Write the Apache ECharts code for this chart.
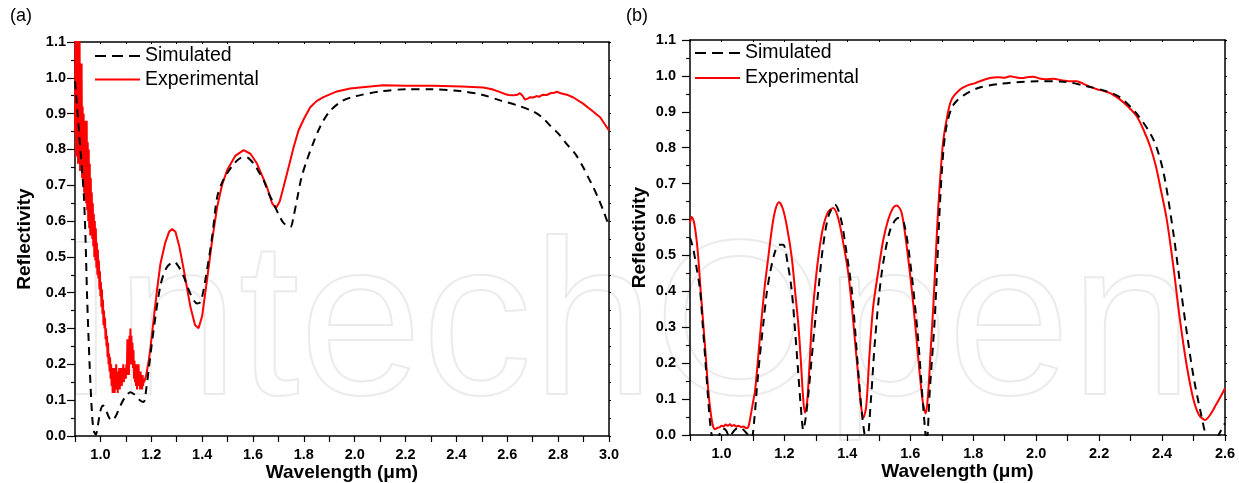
<!DOCTYPE html>
<html>
<head>
<meta charset="utf-8">
<script src="https://cdn.jsdelivr.net/npm/echarts@6/dist/echarts.min.js"></script>
<style>
html,body{margin:0;padding:0;background:#fff;}
#c{width:1239px;height:483px;}
</style>
</head>
<body>
<div id="c"></div>
<script>
// ---------------- DATA ----------------
const seriesNames = ['Simulated', 'Experimental'];
const yTickLabels = ['0.0','0.1','0.2','0.3','0.4','0.5','0.6','0.7','0.8','0.9','1.0','1.1'];
const xTickLabelsA = ['1.0','1.2','1.4','1.6','1.8','2.0','2.2','2.4','2.6','2.8','3.0'];
const xTickLabelsB = ['1.0','1.2','1.4','1.6','1.8','2.0','2.2','2.4','2.6'];

// Panel (a): simulated [wavelength um, reflectivity]
const simA = [
[0.900,0.99],[0.909,0.91],[0.920,0.81],[0.930,0.72],[0.935,0.67],[0.941,0.56],[0.948,0.38],
[0.958,0.19],[0.968,0.05],[0.975,0.012],[0.982,0.004],[0.990,0.03],[1.000,0.07],[1.010,0.085],
[1.020,0.075],[1.035,0.05],[1.047,0.043],[1.060,0.055],[1.080,0.087],[1.100,0.112],[1.118,0.122],
[1.135,0.115],[1.155,0.10],[1.170,0.095],[1.180,0.13],[1.190,0.188],[1.210,0.30],[1.236,0.42],
[1.260,0.47],[1.290,0.486],[1.310,0.47],[1.328,0.444],[1.355,0.395],[1.380,0.37],[1.395,0.375],
[1.419,0.463],[1.440,0.56],[1.459,0.667],[1.480,0.71],[1.498,0.733],[1.525,0.76],[1.550,0.776],
[1.575,0.778],[1.603,0.76],[1.625,0.735],[1.642,0.714],[1.660,0.68],[1.681,0.649],[1.700,0.62],
[1.720,0.595],[1.747,0.583],[1.760,0.615],[1.773,0.66],[1.790,0.72],[1.812,0.77],[1.838,0.82],
[1.865,0.865],[1.900,0.905],[1.950,0.935],[2.000,0.948],[2.100,0.962],[2.205,0.968],[2.300,0.968],
[2.415,0.963],[2.500,0.953],[2.572,0.937],[2.640,0.923],[2.702,0.906],[2.740,0.888],[2.768,0.867],
[2.800,0.845],[2.834,0.815],[2.870,0.785],[2.898,0.751],[2.920,0.72],[2.938,0.695],[2.960,0.66],
[2.980,0.625],[3.000,0.585]
];

// Panel (a): experimental [wavelength um, reflectivity]
const expA = [
[0.900,0.85],[0.902,1.15],[0.904,0.78],[0.906,1.12],[0.908,0.80],[0.910,1.15],[0.912,0.76],
[0.914,0.95],[0.916,0.82],[0.918,1.12],[0.920,0.74],[0.922,0.88],[0.924,0.76],[0.926,1.04],
[0.928,0.72],[0.930,0.92],[0.932,0.70],[0.934,0.90],[0.936,0.68],[0.938,0.88],[0.940,0.66],
[0.942,0.84],[0.944,0.65],[0.946,0.88],[0.948,0.63],[0.950,0.82],[0.952,0.60],[0.954,0.80],
[0.956,0.58],[0.958,0.76],[0.960,0.56],[0.962,0.72],[0.964,0.57],[0.966,0.68],[0.968,0.55],
[0.970,0.65],[0.972,0.53],[0.974,0.62],[0.976,0.50],[0.978,0.60],[0.980,0.49],[0.982,0.58],
[0.984,0.47],[0.986,0.54],[0.988,0.45],[0.990,0.52],[0.992,0.44],[0.994,0.49],[0.996,0.41],
[0.998,0.46],[1.000,0.39],[1.002,0.43],[1.004,0.36],[1.006,0.41],[1.008,0.34],[1.010,0.38],
[1.012,0.31],[1.014,0.35],[1.016,0.30],[1.018,0.33],[1.020,0.27],[1.022,0.30],[1.024,0.25],
[1.026,0.28],[1.028,0.22],[1.030,0.26],[1.032,0.20],[1.034,0.23],[1.036,0.18],[1.038,0.22],
[1.040,0.16],[1.042,0.20],[1.044,0.14],[1.046,0.19],[1.048,0.12],[1.050,0.18],[1.052,0.13],
[1.054,0.19],[1.056,0.12],[1.058,0.17],[1.060,0.14],[1.062,0.20],[1.064,0.13],[1.066,0.18],
[1.068,0.12],[1.070,0.17],[1.072,0.14],[1.074,0.19],[1.076,0.13],[1.078,0.18],[1.080,0.15],
[1.082,0.19],[1.084,0.14],[1.086,0.18],[1.088,0.15],[1.090,0.20],[1.092,0.15],[1.094,0.18],
[1.096,0.16],[1.098,0.19],[1.100,0.16],[1.102,0.20],[1.104,0.17],[1.106,0.27],[1.108,0.18],
[1.110,0.26],[1.112,0.17],[1.114,0.28],[1.116,0.20],[1.118,0.30],[1.120,0.22],[1.122,0.28],
[1.124,0.20],[1.126,0.26],[1.128,0.19],[1.130,0.24],[1.132,0.16],[1.134,0.21],[1.136,0.15],
[1.138,0.19],[1.140,0.14],[1.142,0.20],[1.144,0.13],[1.146,0.18],[1.148,0.15],[1.150,0.20],
[1.152,0.14],[1.154,0.17],[1.156,0.13],[1.158,0.18],[1.160,0.14],[1.162,0.16],[1.164,0.13],
[1.166,0.17],[1.168,0.14],[1.170,0.16],[1.172,0.15],[1.176,0.16],[1.180,0.17],[1.185,0.19],
[1.190,0.21],[1.197,0.248],[1.210,0.33],[1.223,0.41],[1.236,0.481],[1.255,0.54],[1.270,0.57],
[1.282,0.578],[1.295,0.57],[1.310,0.53],[1.328,0.463],[1.354,0.36],[1.372,0.31],[1.386,0.301],
[1.400,0.335],[1.419,0.435],[1.440,0.55],[1.459,0.639],[1.478,0.70],[1.498,0.742],[1.530,0.782],
[1.563,0.798],[1.590,0.788],[1.616,0.76],[1.640,0.72],[1.655,0.695],[1.675,0.65],[1.690,0.636],
[1.705,0.655],[1.720,0.695],[1.740,0.75],[1.760,0.807],[1.779,0.853],[1.800,0.885],[1.825,0.918],
[1.850,0.935],[1.877,0.946],[1.930,0.962],[1.982,0.970],[2.050,0.975],[2.113,0.979],[2.200,0.978],
[2.310,0.978],[2.420,0.976],[2.505,0.973],[2.540,0.968],[2.572,0.96],[2.590,0.955],[2.605,0.952],
[2.623,0.951],[2.640,0.953],[2.650,0.957],[2.660,0.950],[2.670,0.939],[2.680,0.942],[2.690,0.946],
[2.702,0.945],[2.715,0.949],[2.725,0.947],[2.740,0.953],[2.755,0.952],[2.770,0.957],[2.785,0.958],
[2.795,0.961],[2.810,0.957],[2.834,0.953],[2.860,0.945],[2.898,0.928],[2.930,0.91],[2.965,0.89],
[3.000,0.853]
];

// Panel (b): simulated
const simB = [
[0.900,0.55],[0.910,0.52],[0.920,0.47],[0.932,0.404],[0.940,0.31],[0.948,0.218],[0.956,0.12],
[0.964,0.033],[0.972,-0.01],[0.985,-0.02],[0.995,0.005],[1.005,0.018],[1.015,0.012],[1.025,-0.005],
[1.040,0.012],[1.052,0.02],[1.065,0.018],[1.080,0.005],[1.095,-0.01],[1.104,0.04],[1.112,0.125],
[1.122,0.22],[1.133,0.31],[1.143,0.39],[1.154,0.45],[1.170,0.51],[1.183,0.53],[1.196,0.53],
[1.210,0.48],[1.223,0.404],[1.234,0.29],[1.244,0.172],[1.252,0.08],[1.260,0.014],[1.268,0.05],
[1.278,0.13],[1.287,0.218],[1.297,0.31],[1.308,0.404],[1.322,0.52],[1.340,0.61],[1.361,0.641],
[1.380,0.60],[1.397,0.51],[1.414,0.404],[1.425,0.29],[1.435,0.172],[1.445,0.07],[1.455,0.0],
[1.462,-0.02],[1.475,0.10],[1.488,0.265],[1.509,0.45],[1.536,0.571],[1.562,0.604],[1.580,0.59],
[1.604,0.45],[1.625,0.265],[1.641,0.079],[1.652,-0.02],[1.662,0.125],[1.678,0.33],[1.694,0.64],
[1.705,0.79],[1.715,0.86],[1.731,0.91],[1.747,0.93],[1.768,0.945],[1.811,0.965],[1.885,0.978],
[2.002,0.985],[2.087,0.984],[2.161,0.971],[2.224,0.957],[2.267,0.94],[2.320,0.894],[2.373,0.822],
[2.405,0.729],[2.436,0.562],[2.457,0.423],[2.479,0.283],[2.500,0.162],[2.521,0.07],[2.542,-0.01],
[2.560,-0.04],[2.574,-0.01],[2.600,0.033]
];

// Panel (b): experimental
const expB = [
[0.900,0.59],[0.905,0.607],[0.912,0.595],[0.920,0.55],[0.926,0.497],[0.934,0.40],[0.942,0.312],
[0.950,0.22],[0.958,0.125],[0.966,0.06],[0.973,0.025],[0.980,0.016],[0.987,0.02],[0.995,0.022],
[1.000,0.026],[1.007,0.024],[1.013,0.029],[1.020,0.026],[1.027,0.03],[1.033,0.025],[1.040,0.028],
[1.047,0.024],[1.055,0.026],[1.062,0.022],[1.070,0.024],[1.078,0.019],[1.085,0.022],[1.092,0.05],
[1.100,0.09],[1.107,0.125],[1.116,0.21],[1.126,0.31],[1.137,0.41],[1.149,0.497],[1.162,0.585],
[1.172,0.63],[1.183,0.648],[1.195,0.63],[1.208,0.58],[1.223,0.497],[1.234,0.40],[1.244,0.31],
[1.252,0.21],[1.259,0.11],[1.265,0.062],[1.272,0.09],[1.280,0.20],[1.287,0.31],[1.297,0.41],
[1.308,0.497],[1.322,0.575],[1.338,0.62],[1.355,0.632],[1.372,0.60],[1.390,0.52],[1.403,0.45],
[1.414,0.36],[1.424,0.265],[1.434,0.17],[1.443,0.085],[1.451,0.048],[1.460,0.08],[1.470,0.22],
[1.482,0.357],[1.499,0.46],[1.514,0.543],[1.530,0.60],[1.545,0.632],[1.557,0.639],[1.572,0.62],
[1.585,0.55],[1.599,0.45],[1.610,0.36],[1.620,0.265],[1.630,0.17],[1.640,0.09],[1.649,0.06],
[1.657,0.12],[1.665,0.24],[1.673,0.357],[1.681,0.50],[1.689,0.636],[1.697,0.74],[1.705,0.822],
[1.718,0.89],[1.731,0.934],[1.758,0.962],[1.780,0.973],[1.806,0.98],[1.830,0.988],[1.853,0.994],
[1.880,0.996],[1.900,0.995],[1.917,0.999],[1.935,0.996],[1.955,0.994],[1.975,0.997],[1.991,0.998],
[2.010,0.993],[2.030,0.991],[2.055,0.992],[2.080,0.988],[2.105,0.985],[2.129,0.985],[2.150,0.978],
[2.170,0.97],[2.193,0.963],[2.215,0.958],[2.235,0.952],[2.250,0.944],[2.267,0.934],[2.295,0.912],
[2.320,0.887],[2.342,0.848],[2.362,0.804],[2.380,0.75],[2.394,0.692],[2.415,0.60],[2.436,0.469],
[2.457,0.32],[2.479,0.19],[2.500,0.098],[2.518,0.055],[2.537,0.042],[2.552,0.055],[2.568,0.079],
[2.585,0.105],[2.600,0.13]
];

// ---------------- CHART ----------------
const FONT = '"Liberation Sans", Arial, sans-serif';
const chart = echarts.init(document.getElementById('c'), null, {renderer: 'canvas'});

const grids = [
  {left: 75, top: 42, width: 534, height: 394, outerBoundsMode: 'none', containLabel: false},
  {left: 690, top: 40, width: 535, height: 395, outerBoundsMode: 'none', containLabel: false}
];
const xMax = [3.0, 2.6];
const xLabelSets = [xTickLabelsA, xTickLabelsB];
const yLabelMargin = [9, 14];

const xAxes = [], yAxes = [];
[0, 1].forEach(function (i) {
  xAxes.push({
    type: 'value', gridIndex: i, min: 0.9, max: xMax[i], interval: 0.1, position: 'bottom',
    name: 'Wavelength (\u03bcm)', nameLocation: 'middle', nameGap: 27, nameMoveOverlap: false,
    nameTextStyle: {fontFamily: FONT, fontWeight: 'bold', fontSize: 19, color: '#000'},
    axisLine: {onZero: false, lineStyle: {color: '#000', width: 1.5}},
    axisTick: {show: true, inside: false, length: 6, lineStyle: {color: '#000', width: 1.2}},
    axisLabel: {
      margin: 11, fontFamily: FONT, fontWeight: 'bold', fontSize: 14.5, color: '#000',
      showMinLabel: true, showMaxLabel: true,
      formatter: function (v) { const s = v.toFixed(1); return xLabelSets[i].indexOf(s) >= 0 ? s : ''; }
    },
    splitLine: {show: false}
  });
  xAxes.push({
    type: 'value', gridIndex: i, min: 0.9, max: xMax[i], interval: 0.1, position: 'top',
    axisLine: {onZero: false, lineStyle: {color: '#000', width: 1.5}},
    axisTick: {show: true, inside: true, length: 2, lineStyle: {color: '#000', width: 1}},
    axisLabel: {show: false}, splitLine: {show: false}
  });
  yAxes.push({
    type: 'value', gridIndex: i, min: 0, max: 1.1, interval: 0.1, position: 'left',
    name: 'Reflectivity', nameLocation: 'middle', nameGap: 41, nameRotate: 90, nameMoveOverlap: false,
    nameTextStyle: {fontFamily: FONT, fontWeight: 'bold', fontSize: 19, color: '#000'},
    axisLine: {onZero: false, lineStyle: {color: '#000', width: 1.5}},
    axisTick: {show: true, inside: false, length: 8, lineStyle: {color: '#000', width: 1.2}},
    minorTick: {show: true, splitNumber: 2, length: 4, lineStyle: {color: '#000', width: 1.2}},
    axisLabel: {
      margin: yLabelMargin[i], fontFamily: FONT, fontWeight: 'bold', fontSize: 14.5, color: '#000',
      formatter: function (v) { const idx = Math.round(v * 10); return yTickLabels[idx] || ''; }
    },
    splitLine: {show: false}, minorSplitLine: {show: false}
  });
  yAxes.push({
    type: 'value', gridIndex: i, min: 0, max: 1.1, interval: 0.1, position: 'right',
    axisLine: {onZero: false, lineStyle: {color: '#000', width: 1.5}},
    axisTick: {show: true, inside: false, length: 2, lineStyle: {color: '#000', width: 1}},
    minorTick: {show: true, splitNumber: 2, length: 2, lineStyle: {color: '#000', width: 1}},
    axisLabel: {show: false}, splitLine: {show: false}, minorSplitLine: {show: false}
  });
});

function mkSeries(name, data, gi, dashed) {
  return {
    name: name, type: 'line', data: data, xAxisIndex: gi * 2, yAxisIndex: gi * 2,
    symbol: 'none', showSymbol: false, smooth: (gi === 0 && !dashed) ? false : 0.3, clip: true,
    animation: false,
    lineStyle: dashed ? {color: '#000', width: 2, type: [8, 6]} : {color: '#ff0000', width: 2},
    itemStyle: {color: dashed ? '#000' : '#ff0000'},
    z: dashed ? 3 : 2
  };
}

const DASH_ICON = 'path://M0,0H11V2H0Z M17,0H28V2H17Z M34,0H45V2H34Z';
const SOLID_ICON = 'path://M0,0H45V2H0Z';
function legendData() {
  return [
    {name: seriesNames[0], icon: DASH_ICON},
    {name: seriesNames[1], icon: SOLID_ICON}
  ];
}

const option = {
  animation: false,
  backgroundColor: '#fff',
  grid: grids,
  xAxis: xAxes,
  yAxis: yAxes,
  legend: [
    {left: 90, top: 41, orient: 'vertical', itemWidth: 45, itemHeight: 2, itemGap: 3.5,
     data: legendData(),
     textStyle: {fontFamily: FONT, fontSize: 19.5, color: '#000'}},
    {left: 690, top: 38, orient: 'vertical', itemWidth: 45, itemHeight: 2, itemGap: 5,
     data: legendData(),
     textStyle: {fontFamily: FONT, fontSize: 19.5, color: '#000'}}
  ],
  graphic: [
    {type: 'text', left: 10, top: 7, z: 10,
     style: {text: '(a)', font: '18px ' + FONT, fill: '#000'}},
    {type: 'text', left: 626, top: 7, z: 10,
     style: {text: '(b)', font: '18px ' + FONT, fill: '#000'}},
    {type: 'text', x: 55, y: 333, z: -10, silent: true,
     style: {text: 'IntechOpen', font: '220px ' + FONT, fill: 'rgba(0,0,0,0)', stroke: '#ebebeb', lineWidth: 2,
             align: 'left', verticalAlign: 'middle'}}
  ],
  series: [
    mkSeries('Experimental', expA, 0, false),
    mkSeries('Simulated', simA, 0, true),
    mkSeries('Experimental', expB, 1, false),
    mkSeries('Simulated', simB, 1, true)
  ]
};
chart.setOption(option);
</script>
</body>
</html>
